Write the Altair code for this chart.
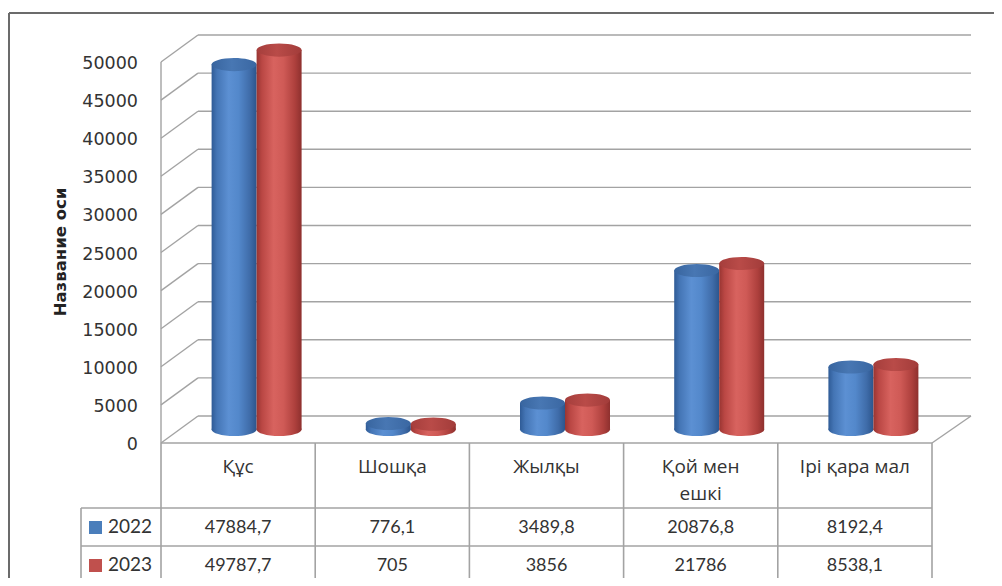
import altair as alt
import pandas as pd

# ---------------- data ----------------
categories = ["Құс", "Шошқа", "Жылқы", "Қой мен ешкі", "Ірі қара мал"]
header_labels = ["Құс", "Шошқа", "Жылқы", "Қой мен\nешкі", "Ірі қара мал"]
series = ["2022", "2023"]
values_2022 = [47884.7, 776.1, 3489.8, 20876.8, 8192.4]
values_2023 = [49787.7, 705, 3856, 21786, 8538.1]
tick_values = [0, 5000, 10000, 15000, 20000, 25000, 30000, 35000, 40000, 45000, 50000]
axis_title = "Название оси"

# ---------------- layout constants ----------------
W, H = 986, 570
X0, CW = 153.0, 154.2          # pixel of category 0 left edge, category width
Y0, K = 435.0, 381.0 / 50000   # pixel of value 0 (front), px per unit
DX, DY = 37, -27               # 3D depth offset
CYL_W = 45.0                   # cylinder width, px
LEG_LEFT = 73.0                # left edge of the legend column, px
GRID = "#a3a3a3"
TXT = "#333333"
TABLE_FONT = "Lato"
HEAD_FONT = "Open Sans"

xs = alt.Scale(domain=[-X0 / CW, (W - X0) / CW], nice=False, zero=False)
ys = alt.Scale(domain=[(Y0 - H) / K, Y0 / K], nice=False, zero=False)

def X(f):
    return alt.X(f + ":Q", scale=xs, axis=None)

def X2(f):
    return alt.X2(f + ":Q")

def Y(f):
    return alt.Y(f + ":Q", scale=ys, axis=None)

def Y2(f):
    return alt.Y2(f + ":Q")

n = len(categories)
one = pd.DataFrame({"a": [0]})
ticks_df = pd.DataFrame({"v": tick_values, "u0": [0] * len(tick_values),
                         "u1": [n] * len(tick_values)})
ticks_df["lab"] = [str(t) for t in tick_values]

layers = []

# outer frame
layers.append(alt.Chart(one).mark_rule(color="#6b6b6b", strokeWidth=2).encode(
    x=alt.value(1), x2=alt.value(W), y=alt.value(5)))
layers.append(alt.Chart(one).mark_rule(color="#6b6b6b", strokeWidth=2).encode(
    x=alt.value(1), y=alt.value(5), y2=alt.value(H)))

# back wall gridlines
layers.append(alt.Chart(ticks_df).mark_rule(
    color=GRID, strokeWidth=1.4, xOffset=DX, x2Offset=DX + 2, yOffset=DY, y2Offset=DY).encode(
    x=X("u0"), x2=X2("u1"), y=Y("v")))
# side wall diagonals
layers.append(alt.Chart(ticks_df).mark_rule(
    color=GRID, strokeWidth=1.4, x2Offset=DX, y2Offset=DY).encode(
    x=X("u0"), x2=X2("u0"), y=Y("v"), y2=Y2("v")))
# front vertical edge
edge_df = pd.DataFrame({"u": [0], "v0": [0], "v1": [tick_values[-1]]})
layers.append(alt.Chart(edge_df).mark_rule(color=GRID, strokeWidth=1.4).encode(
    x=X("u"), y=Y("v0"), y2=Y2("v1")))
# floor: front line and right diagonal
floor_df = pd.DataFrame({"u0": [0], "u1": [n], "v": [0]})
layers.append(alt.Chart(floor_df).mark_rule(color=GRID, strokeWidth=1.6).encode(
    x=X("u0"), x2=X2("u1"), y=Y("v")))
layers.append(alt.Chart(floor_df).mark_rule(
    color=GRID, strokeWidth=1.4, x2Offset=DX + 2, y2Offset=DY).encode(
    x=X("u1"), x2=X2("u1"), y=Y("v"), y2=Y2("v")))

# ---------------- data table lines ----------------
vlines = pd.DataFrame({"u": list(range(n + 1)), "v": [0] * (n + 1)})
layers.append(alt.Chart(vlines).mark_rule(color=GRID, strokeWidth=1.6).encode(
    x=X("u"), y=Y("v"), y2=alt.value(H)))
hl = pd.DataFrame({"ul": [(LEG_LEFT - X0) / CW], "ur": [n]})
for yp in [500, 538, 574]:
    layers.append(alt.Chart(hl).mark_rule(color=GRID, strokeWidth=1.6).encode(
        x=X("ul"), x2=X2("ur"), y=alt.value(yp)))
layers.append(alt.Chart(hl).mark_rule(color=GRID, strokeWidth=1.6).encode(
    x=X("ul"), y=alt.value(500), y2=alt.value(H)))

# ---------------- cylinders ----------------
palette = {
    "2022": dict(
        body=["#2f5b96", "#4475b5", "#5c90d3", "#5388cb", "#3f6ca9", "#2c558c"],
        top=["#38659f", "#4877b3", "#3a67a2"],
        leg="#4a7ebb"),
    "2023": dict(
        body=["#983532", "#ba4744", "#d8635f", "#cf5a56", "#ae403d", "#8e302e"],
        top=["#a53e3c", "#b94b48", "#a23c3a"],
        leg="#c0504d"),
}
offs = [0, 0.12, 0.38, 0.6, 0.85, 1]

def grad(cols, o):
    return alt.LinearGradient(
        gradient="linear", x1=0, x2=1, y1=0, y2=0,
        stops=[alt.GradientStop(offset=a, color=c) for a, c in zip(o, cols)])

ELLIPSE = "M-1,0A1,0.29,0,1,1,1,0A1,0.29,0,1,1,-1,0Z"
half = CYL_W / 2 / CW
for si, (s, vals) in enumerate(zip(series, [values_2022, values_2023])):
    cu = [i + 0.5 + (DX / 2 + (si - 0.5) * CYL_W) / CW for i in range(n)]
    df = pd.DataFrame({"cat": categories, "v": vals, "zero": [0] * n, "cu": cu,
                       "ul": [c - half for c in cu], "ur": [c + half for c in cu]})
    body = grad(palette[s]["body"], offs)
    top = grad(palette[s]["top"], [0, 0.45, 1])
    layers.append(alt.Chart(df).mark_point(
        shape=ELLIPSE, filled=True, size=CYL_W ** 2, opacity=1, fill=body,
        strokeWidth=0, yOffset=DY / 2).encode(x=X("cu"), y=Y("zero")))
    layers.append(alt.Chart(df).mark_rect(
        fill=body, strokeWidth=0, yOffset=DY / 2, y2Offset=DY / 2).encode(
        x=X("ul"), x2=X2("ur"), y=Y("zero"), y2=Y2("v")))
    layers.append(alt.Chart(df).mark_point(
        shape=ELLIPSE, filled=True, size=CYL_W ** 2, opacity=1, fill=top,
        strokeWidth=0, yOffset=DY / 2).encode(x=X("cu"), y=Y("v")))

# ---------------- axis labels and title ----------------
layers.append(alt.Chart(ticks_df).mark_text(
    align="right", baseline="middle", dy=2, font="DejaVu Sans", fontSize=17.5, color=TXT).encode(
    x=alt.value(130), y=Y("v"), text="lab:N"))
layers.append(alt.Chart(pd.DataFrame({"t": [axis_title]})).mark_text(
    angle=270, align="center", baseline="middle", font="DejaVu Sans", fontSize=16.5,
    fontWeight="bold", color="#222222").encode(
    x=alt.value(53), y=alt.value(244), text="t:N"))

# ---------------- table text ----------------
hdr = pd.DataFrame({"u": [i + 0.5 for i in range(n)], "lab": header_labels})
layers.append(alt.Chart(hdr).mark_text(
    align="center", baseline="alphabetic", lineBreak="\n", lineHeight=27,
    font=HEAD_FONT, fontSize=19, color=TXT).encode(
    x=X("u"), y=alt.value(465), text="lab:N"))

def fmt(v):
    return f"{v:g}".replace(".", ",")

for si, (s, vals, yb) in enumerate(zip(series, [values_2022, values_2023], [525, 563])):
    row = pd.DataFrame({"u": [i + 0.5 for i in range(n)], "lab": [fmt(v) for v in vals]})
    layers.append(alt.Chart(row).mark_text(
        align="center", baseline="alphabetic", font=TABLE_FONT, fontSize=18, color=TXT).encode(
        x=X("u"), y=alt.value(yb), text="lab:N"))
    leg = pd.DataFrame({"lab": [s]})
    layers.append(alt.Chart(leg).mark_rect(color=palette[s]["leg"]).encode(
        x=alt.value(81), x2=alt.value(94), y=alt.value(yb - 12), y2=alt.value(yb + 1)))
    layers.append(alt.Chart(leg).mark_text(
        align="left", baseline="alphabetic", font=TABLE_FONT, fontSize=19, color=TXT).encode(
        x=alt.value(100), y=alt.value(yb), text="lab:N"))

chart = alt.layer(*layers).properties(
    width=W, height=H, padding=0, autosize=alt.AutoSizeParams(type="none"),
    background="white"
).configure_view(stroke=None)

chart.save("out.html", embed_options={"renderer": "svg", "actions": False})
